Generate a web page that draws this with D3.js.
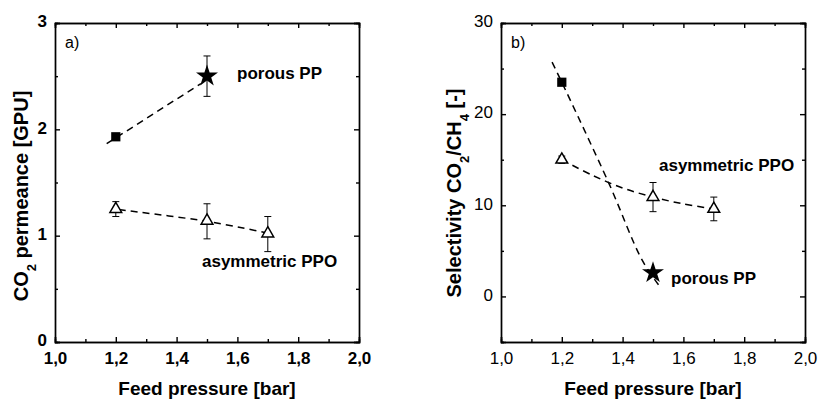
<!DOCTYPE html>
<html>
<head>
<meta charset="utf-8">
<script src="https://cdn.jsdelivr.net/npm/d3@7"></script>
<style>
  body { margin: 0; background: #fff; }
  svg { font-family: "Liberation Sans", Arial, sans-serif; }
  .axis path, .axis line { stroke: #000; stroke-width: 1.4; }
  .axis text { fill: #000; }
</style>
</head>
<body>
<script>
"use strict";

// x ticks shared by both panels
var xMajor = [1.0, 1.2, 1.4, 1.6, 1.8, 2.0];
var xMinor = [1.1, 1.3, 1.5, 1.7, 1.9];

// panel a) CO2 permeance
var permMajor = [0, 1, 2, 3];
var permMinor = [0.5, 1.5, 2.5];
var ppPermX = [1.2, 1.5];
var ppPermY = [1.93, 2.50];
var ppPermErr = [0, 0.19];          // half width of error bar
var ppoPermX = [1.2, 1.5, 1.7];
var ppoPermY = [1.25, 1.14, 1.02];
var ppoPermErrLo = [1.18, 0.97, 0.85];
var ppoPermErrHi = [1.32, 1.30, 1.18];
var ppPermFit = [[1.17, 1.865], [1.48, 2.43]];
var ppoPermFit = [[1.21, 1.245], [1.5, 1.135], [1.69, 1.03]];

// panel b) selectivity CO2/CH4
var selMajor = [0, 10, 20, 30];
var selMinor = [-5, 5, 15, 25];
var ppSelX = [1.2, 1.5];
var ppSelY = [23.5, 2.6];
var ppoSelX = [1.2, 1.5, 1.7];
var ppoSelY = [15.0, 10.9, 9.6];
var ppoSelErrLo = [14.6, 9.3, 8.3];
var ppoSelErrHi = [15.4, 12.5, 10.9];
var ppSelFit = [[1.168, 25.7], [1.2, 23.5], [1.355, 12.4], [1.464, 4.0], [1.52, 1.2]];
var ppoSelFit = [[1.2, 15.0], [1.3, 13.3], [1.4, 11.9], [1.5, 10.9], [1.6, 10.15], [1.7, 9.6]];

var W = 818, H = 400;
var svg = d3.select('body').append('svg').attr('width', W).attr('height', H);

var fmtComma = function(d) { return d3.format('.1f')(d).replace('.', ','); };

var drawPanel = function(cfg) {

  var x = d3.scaleLinear().domain([1.0, 2.0]).range([cfg.left, cfg.left + 304]);
  var y = d3.scaleLinear().domain(cfg.yDomain).range([342, 23]);
  var g = svg.append('g');
  var weight = cfg.bold ? 'bold' : 'normal';

  // axes: bottom/left with labels, top/right ticks only, all ticks inward
  var addAxis = function(axis, tx, ty) {
    var a = g.append('g').attr('class', 'axis')
      .attr('transform', 'translate(' + tx + ',' + ty + ')').call(axis);
    a.selectAll('text').style('font-size', '17px').style('font-weight', weight);
    return a;
  };

  addAxis(d3.axisBottom(x).tickValues(xMajor).tickSize(-5).tickPadding(10).tickFormat(fmtComma), 0, 342);
  addAxis(d3.axisBottom(x).tickValues(xMinor).tickSize(-3).tickFormat(''), 0, 342);
  addAxis(d3.axisTop(x).tickValues(xMajor).tickSize(-5).tickFormat(''), 0, 23);
  addAxis(d3.axisTop(x).tickValues(xMinor).tickSize(-3).tickFormat(''), 0, 23);
  addAxis(d3.axisLeft(y).tickValues(cfg.yMajor).tickSize(-5).tickPadding(8).tickFormat(d3.format('d')), cfg.left, 0)
    .selectAll('text').attr('dy', '0.22em');
  addAxis(d3.axisLeft(y).tickValues(cfg.yMinor).tickSize(-3).tickFormat(''), cfg.left, 0);
  addAxis(d3.axisRight(y).tickValues(cfg.yMajor).tickSize(-5).tickFormat(''), cfg.left + 304, 0);
  addAxis(d3.axisRight(y).tickValues(cfg.yMinor).tickSize(-3).tickFormat(''), cfg.left + 304, 0);

  // fit lines
  var line = d3.line()
    .x(function(d) { return x(d[0]); })
    .y(function(d) { return y(d[1]); })
    .curve(d3.curveCatmullRom);

  [cfg.ppFit, cfg.ppoFit].forEach(function(pts) {
    g.append('path').attr('d', line(pts))
      .attr('fill', 'none').attr('stroke', '#000')
      .attr('stroke-width', 1.5).attr('stroke-dasharray', '7,5');
  });

  // error bars
  var drawErr = function(xv, lo, hi) {
    var cx = x(xv);
    g.append('line').attr('x1', cx).attr('x2', cx).attr('y1', y(lo)).attr('y2', y(hi))
      .attr('stroke', '#000').attr('stroke-width', 1);
    [lo, hi].forEach(function(v) {
      g.append('line').attr('x1', cx - 3.5).attr('x2', cx + 3.5).attr('y1', y(v)).attr('y2', y(v))
        .attr('stroke', '#000').attr('stroke-width', 1);
    });
  };

  cfg.ppoX.forEach(function(xv, i) { drawErr(xv, cfg.ppoLo[i], cfg.ppoHi[i]); });
  if (cfg.ppErr) {
    cfg.ppX.forEach(function(xv, i) {
      if (cfg.ppErr[i] > 0) drawErr(xv, cfg.ppY[i] - cfg.ppErr[i], cfg.ppY[i] + cfg.ppErr[i]);
    });
  }

  // triangles
  var tri = d3.symbol().type(d3.symbolTriangle).size(60);
  cfg.ppoX.forEach(function(xv, i) {
    g.append('path').attr('d', tri())
      .attr('transform', 'translate(' + x(xv) + ',' + y(cfg.ppoY[i]) + ')')
      .attr('fill', '#fff').attr('stroke', '#000').attr('stroke-width', 1.5);
  });

  // square then star
  g.append('path').attr('d', d3.symbol().type(d3.symbolSquare).size(85)())
    .attr('transform', 'translate(' + x(cfg.ppX[0]) + ',' + y(cfg.ppY[0]) + ')')
    .attr('fill', '#000');
  g.append('path').attr('d', d3.symbol().type(d3.symbolStar).size(150)())
    .attr('transform', 'translate(' + x(cfg.ppX[1]) + ',' + y(cfg.ppY[1]) + ')')
    .attr('fill', '#000');

  // annotations
  g.append('text').attr('x', cfg.left + 10).attr('y', 48)
    .style('font-size', '16px').text(cfg.tag);
  g.append('text').attr('x', cfg.ppLabel[0]).attr('y', cfg.ppLabel[1])
    .style('font-size', '17px').style('font-weight', 'bold').text('porous PP');
  g.append('text').attr('x', cfg.ppoLabel[0]).attr('y', cfg.ppoLabel[1])
    .style('font-size', '17px').style('font-weight', 'bold').text('asymmetric PPO');

  // axis titles
  g.append('text').attr('x', cfg.left + 152).attr('y', 395)
    .attr('text-anchor', 'middle')
    .style('font-size', '19px').style('font-weight', 'bold')
    .text('Feed pressure [bar]');

  var yt = g.append('text')
    .attr('transform', 'translate(' + cfg.yTitleX + ',' + cfg.yTitleY + ') rotate(-90)')
    .attr('text-anchor', 'middle')
    .style('font-size', '20px').style('font-weight', 'bold');
  cfg.yTitle.forEach(function(part) {
    var t = yt.append('tspan').text(part[0]);
    if (part[1]) t.attr('baseline-shift', 'sub').style('font-size', '13px');
  });
};

drawPanel({
  left: 55, yDomain: [0, 3], yMajor: permMajor, yMinor: permMinor, bold: true,
  ppX: ppPermX, ppY: ppPermY, ppErr: ppPermErr,
  ppoX: ppoPermX, ppoY: ppoPermY, ppoLo: ppoPermErrLo, ppoHi: ppoPermErrHi,
  ppFit: ppPermFit, ppoFit: ppoPermFit,
  tag: 'a)', ppLabel: [237, 79], ppoLabel: [202, 267],
  yTitleX: 28, yTitleY: 196,
  yTitle: [['CO', false], ['2', true], [' permeance [GPU]', false]]
});

drawPanel({
  left: 501, yDomain: [-5, 30], yMajor: selMajor, yMinor: selMinor, bold: false,
  ppX: ppSelX, ppY: ppSelY, ppErr: null,
  ppoX: ppoSelX, ppoY: ppoSelY, ppoLo: ppoSelErrLo, ppoHi: ppoSelErrHi,
  ppFit: ppSelFit, ppoFit: ppoSelFit,
  tag: 'b)', ppLabel: [671, 284], ppoLabel: [659, 171],
  yTitleX: 461, yTitleY: 193,
  yTitle: [['Selectivity CO', false], ['2', true], ['/CH', false], ['4', true], [' [-]', false]]
});
</script>
</body>
</html>
